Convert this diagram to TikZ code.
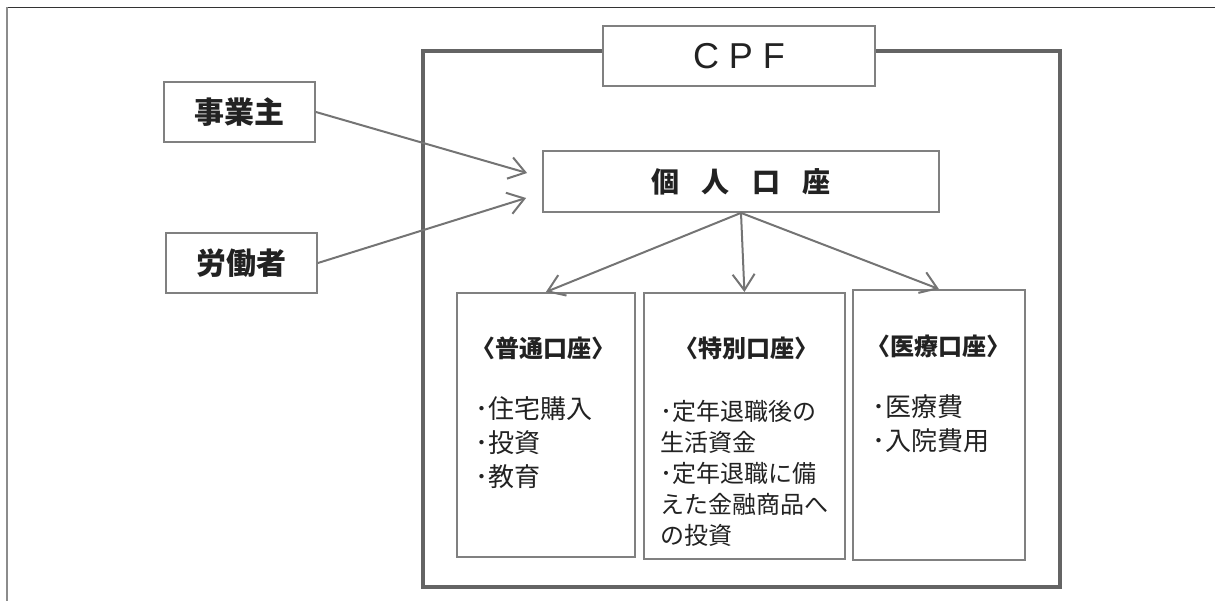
\documentclass[tikz,border=0pt]{standalone}
\usepackage{fontspec}
\setmainfont{Noto Sans CJK JP}
\newfontfamily\latinfont{Liberation Sans}
\usepackage{tikz}
\usetikzlibrary{arrows.meta}
\definecolor{framegray}{HTML}{646464}
\definecolor{boxgray}{HTML}{808080}
\definecolor{arcgray}{HTML}{747474}
\definecolor{inkblack}{HTML}{222222}
\tikzset{every picture/.append style={x=1pt,y=-1pt}}
\tikzset{box/.style={draw=boxgray, line width=1.8pt, fill=white, inner sep=0pt, text=inkblack}}
\tikzset{sidebox/.style={box, minimum width=151pt, minimum height=60pt, font=\fontsize{30}{30}\selectfont\bfseries}}
\tikzset{acctbox/.style={box, anchor=north west}}
\tikzset{arc/.style={-{Straight Barb[length=16pt,width=22pt,line width=2pt]}, draw=arcgray, line width=2pt}}
\tikzset{acctitle/.style={font=\fontsize{24}{24}\selectfont\bfseries, text=inkblack, inner sep=0pt}}
\tikzset{usage/.style={anchor=north west, align=left, font=\fontsize{26}{34}\selectfont, text=inkblack, inner sep=0pt}}
\newcommand{\wordgap}{\hspace{22.5pt}}

\begin{document}
\begin{tikzpicture}
\useasboundingbox (0,0) rectangle (1215,601);
\draw[black!80, line width=1pt] (7,7.5)--(1215,7.5);
\draw[black!45, line width=1.5pt] (7,7.5)--(7,601);

%the CPF frame and its label
\node (cpf) at (741.5,319)[draw=framegray, line width=3.5pt, minimum width=637pt, minimum height=536pt]{};
\node (cpflabel) at (739,56)[box, minimum width=272pt, minimum height=60pt, font=\latinfont\fontsize{36}{36}\selectfont]{C\hspace{10pt}P\hspace{10pt}F};

\node (employer) at (239.5,112)[sidebox]{事業主};
\node (worker) at (241.5,263)[sidebox]{労働者};
\node (account) at (741,181.5)[box, minimum width=396pt, minimum height=61pt, font=\fontsize{28}{28}\selectfont\bfseries]{個\wordgap 人\wordgap 口\wordgap 座};

%the three accounts
\node (ordinary) at (456,292)[acctbox, minimum width=178pt, minimum height=264pt]{};
\node (special) at (643,292)[acctbox, minimum width=201pt, minimum height=266pt]{};
\node (medisave) at (852,289)[acctbox, minimum width=172pt, minimum height=270pt]{};

\node (ordinarytitle) at (543,348)[acctitle]{〈普通口座〉};
\node (specialtitle) at (746,348)[acctitle]{〈特別口座〉};
\node (medisavetitle) at (938,346)[acctitle]{〈医療口座〉};

\node (ordinaryuse) at (475,396)[usage]{･住宅購入\\･投資\\･教育};
\node (specialuse) at (660,400)[usage, font=\fontsize{24}{31}\selectfont]{･定年退職後の\\生活資金\\･定年退職に備\\えた金融商品へ\\の投資};
\node (medisaveuse) at (872,394)[usage]{･医療費\\･入院費用};

\draw[arc] (employer.east)--([xshift=-15pt,yshift=8.5pt]account.west);
\draw[arc] (worker.east)--([xshift=-16pt,yshift=-16.5pt]account.west);
\draw[arc] (account.south)--(ordinary.north);
\draw[arc] (account.south)--(special.north);
\draw[arc] (account.south)--(medisave.north);

\end{tikzpicture}
\end{document}
